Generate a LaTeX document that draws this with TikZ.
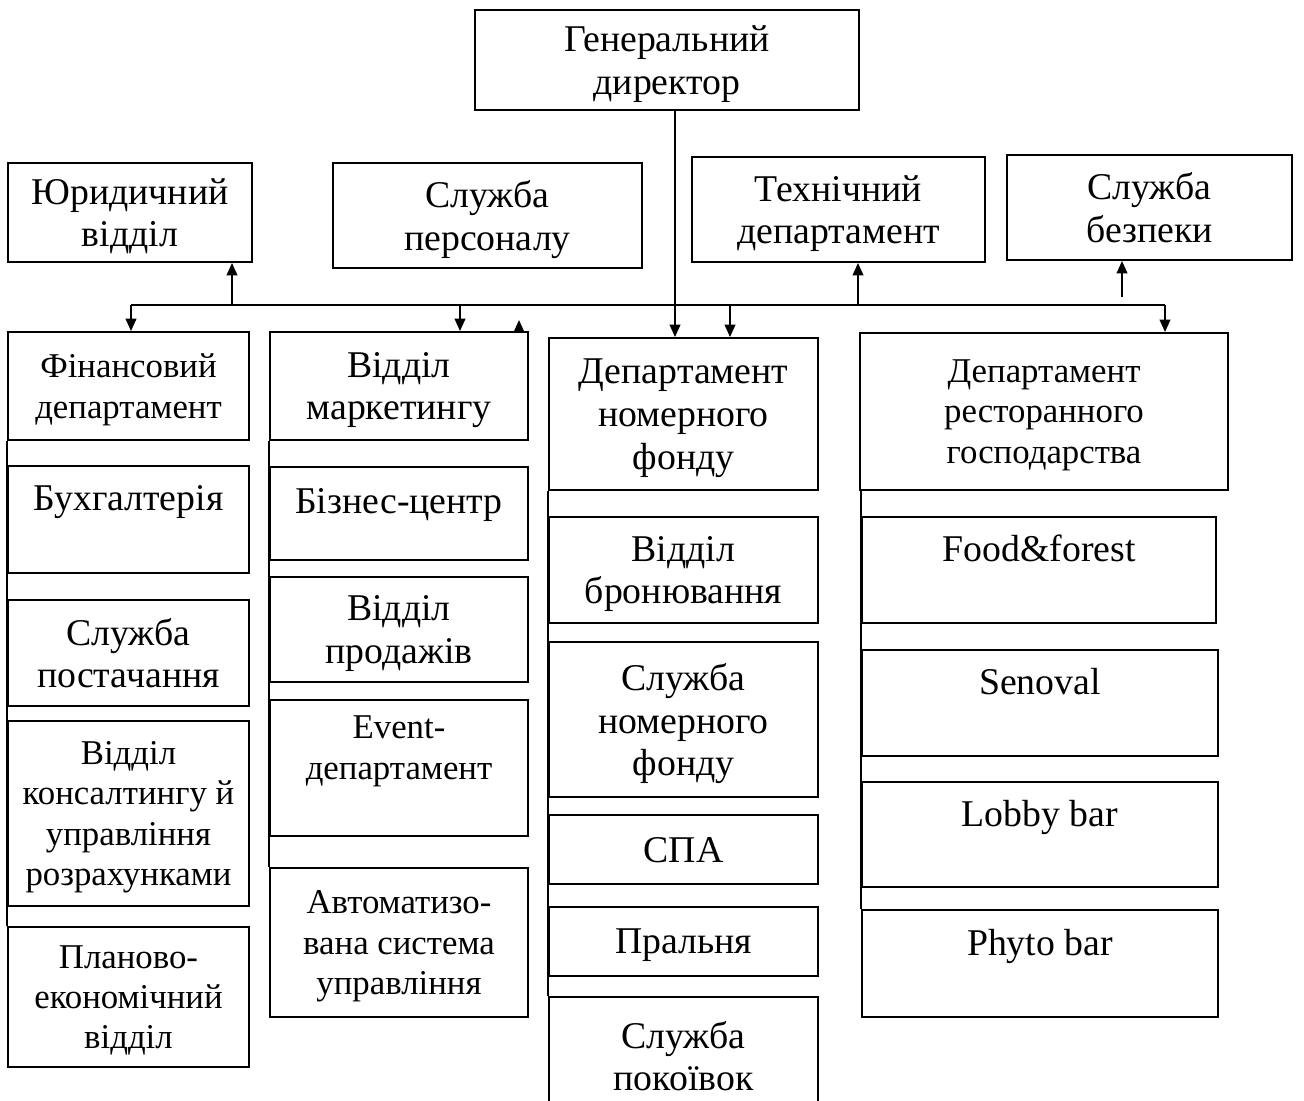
\documentclass[tikz,border=0pt]{standalone}
\usepackage{fontspec}
\setmainfont{Liberation Serif}
\usepackage{tikz}
\usetikzlibrary{arrows.meta}
\newcommand{\bigsz}{\fontsize{21.5}{24.4}\selectfont}
\newcommand{\smallsz}{\fontsize{19.8}{23}\selectfont}

\begin{document}
\begin{tikzpicture}[x=0.02cm,y=-0.02cm,>={Triangle[length=7pt,width=6pt]},
  unit/.style={draw,line width=1.1pt,align=center,inner sep=1pt,text depth=0pt,font=\bigsz},
  small/.style={font=\smallsz},
  sz/.style 2 args={minimum width=#1*0.02cm,minimum height=#2*0.02cm},
  link/.style={line width=1.1pt}]
\useasboundingbox (0,0) rectangle (1304,1100);
\node[unit,sz={384}{100}] (dir) at (667,60) {Генеральний\\директор};
\node[unit,sz={244}{99}] (yur) at (130,212.5) {Юридичний\\відділ};
\node[unit,sz={309}{105}] (pers) at (487.5,215.5) {Служба\\персоналу};
\node[unit,sz={293}{105}] (tech) at (838.5,209.5) {Технічний\\департамент};
\node[unit,sz={285}{105}] (bezp) at (1149.5,207.5) {Служба\\безпеки};
\node[unit,small,sz={241}{108}] (fin) at (128.5,386) {Фінансовий\\департамент};
\node[unit,sz={241}{107}] (buh) at (128.5,519.5) {Бухгалтерія\\\mbox{}};
\node[unit,sz={241}{106}] (post) at (128.5,653) {Служба\\постачання};
\node[unit,small,sz={241}{185}] (kons) at (128.5,813.5) {Відділ\\консалтингу й\\управління\\розрахунками};
\node[unit,small,sz={241}{140}] (plan) at (128.5,997) {Планово-\\економічний\\відділ};
\node[unit,sz={258}{108}] (mkt) at (399,386) {Відділ\\маркетингу};
\node[unit,sz={258}{93}] (biz) at (399,513.5) {Бізнес-центр\\[-10pt]\mbox{}};
\node[unit,sz={258}{105}] (prod) at (399,629.5) {Відділ\\продажів};
\node[unit,small,sz={258}{136}] (event) at (399,768) {Event-\\департамент\\\mbox{}};
\node[unit,small,sz={258}{149}] (asu) at (399,942.5) {Автоматизо-\\вана система\\управління};
\node[unit,sz={269}{152}] (nf) at (683.5,414) {Департамент\\номерного\\фонду};
\node[unit,sz={269}{106}] (bron) at (683.5,570) {Відділ\\бронювання};
\node[unit,sz={269}{155}] (snf) at (683.5,719.5) {Служба\\номерного\\фонду};
\node[unit,sz={269}{69}] (spa) at (683.5,849.5) {СПА};
\node[unit,sz={269}{69}] (pral) at (683.5,941.5) {Пральня};
\node[unit,sz={269}{118}] (pok) at (683.5,1056) {Служба\\покоївок};
\node[unit,small,sz={368}{157}] (rest) at (1044,411.5) {Департамент\\ресторанного\\господарства};
\node[unit,sz={354}{106}] (food) at (1039,570) {Food\&forest\\\mbox{}};
\node[unit,sz={356}{106}] (sen) at (1040,703) {Senoval\\\mbox{}};
\node[unit,sz={356}{105}] (lobby) at (1040,834.5) {Lobby bar\\\mbox{}};
\node[unit,sz={356}{107}] (phyto) at (1040,963.5) {Phyto bar\\\mbox{}};
\coordinate (busL) at (131,305);
\coordinate (busR) at (1165,305);
\coordinate (c0) at (675,305);
\coordinate (b1) at (232,305);
\coordinate (b2) at (460,305);
\coordinate (b3) at (730,305);
\coordinate (b4) at (858,305);
\coordinate (b5) at (1122,297);
\coordinate (stub) at (519,332);
\draw[link] (busL) -- (busR);
\draw[link,->] (dir.south -| c0) -- (c0 |- nf.north);
\draw[link,->] (busL) -- (busL |- fin.north);
\draw[link,->] (b1) -- (b1 |- yur.south);
\draw[link,->] (b2) -- (b2 |- mkt.north);
\draw[link,->] (stub) -- ++(0,-12);
\draw[link,->] (b3) -- (b3 |- nf.north);
\draw[link,->] (b4) -- (b4 |- tech.south);
\draw[link,->] (b5) -- (b5 |- bezp.south);
\draw[link,->] (busR) -- (busR |- rest.north);
\draw[link] (fin.south west) -- (plan.north west);
\draw[link] (mkt.south west) -- (asu.north west);
\draw[link] (nf.south west) -- (pok.north west);
\draw[link] (food.north west |- rest.south) -- (phyto.north west);
\end{tikzpicture}
\end{document}
